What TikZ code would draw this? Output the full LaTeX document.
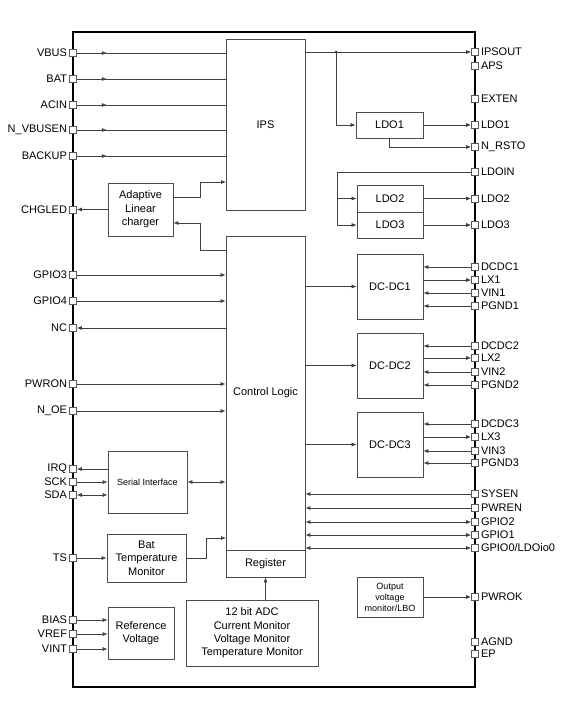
\documentclass[tikz,border=0pt]{standalone}
\usepackage{fontspec}
\setmainfont{Liberation Sans}
\usetikzlibrary{arrows.meta,decorations.markings}

\tikzset{
  wire/.style={draw=black!75, line width=0.7pt},
  arr/.style={wire, -{Latex[length=5pt,width=4pt]}},
  arrs/.style={wire, {Latex[length=5pt,width=4pt]}-{Latex[length=5pt,width=4pt]}},
  midarr/.style={wire, postaction={decorate},
    decoration={markings, mark=at position 30pt with {\arrow{Latex[length=5pt,width=4pt]}}}},
  blk/.style={draw=black!70, line width=0.8pt, inner sep=1pt, align=center,
    font=\fontsize{11}{13.4}\selectfont},
  small/.style={font=\fontsize{9}{11}\selectfont},
  pinbox/.style={draw=black!65, fill=white, line width=0.6pt, minimum size=7pt, inner sep=0pt},
  lbl/.style={font=\fontsize{11}{13}\selectfont, inner sep=2pt},
}

\begin{document}
\begin{tikzpicture}[x=1pt,y=-1pt]
\useasboundingbox (0,0) rectangle (564,711);

% chip outline
\node[draw, line width=1.5pt, minimum width=402pt, minimum height=655pt, inner sep=0pt] (chip) at (274,359.5) {};

% blocks
\node[blk, minimum width=79pt, minimum height=171pt] (ips) at (265.5,124.5) {IPS};
\node[blk, minimum width=79pt, minimum height=314pt] (ctrl) at (265.5,393) {Control Logic};
\node[blk, minimum width=79pt, minimum height=27pt] (reg) at (265.5,563.5) {Register};
\node[blk, minimum width=65pt, minimum height=53pt] (chg) at (140.5,209.5) {Adaptive\\Linear\\charger};
\node[blk, minimum width=67pt, minimum height=26pt] (ldo1) at (389.5,125) {LDO1};
\node[blk, minimum width=66pt, minimum height=27pt] (ldo2) at (390,198.5) {LDO2};
\node[blk, minimum width=66pt, minimum height=26pt] (ldo3) at (390,225) {LDO3};
\node[blk, minimum width=66pt, minimum height=65pt] (dc1) at (390,286.5) {DC-DC1};
\node[blk, minimum width=66pt, minimum height=65pt] (dc2) at (390,365.5) {DC-DC2};
\node[blk, minimum width=66pt, minimum height=65pt] (dc3) at (390,444.5) {DC-DC3};
\node[blk, small, minimum width=79pt, minimum height=62pt] (ser) at (147.5,482) {Serial Interface};
\node[blk, minimum width=79pt, minimum height=48pt] (bat) at (146.5,558) {Bat\\Temperature\\Monitor};
\node[blk, minimum width=66pt, minimum height=52pt] (ref) at (141,633) {Reference\\Voltage};
\node[blk, minimum width=132pt, minimum height=66pt] (adc) at (252,633) {12 bit ADC\\Current Monitor\\Voltage Monitor\\Temperature Monitor};
\node[blk, small, minimum width=66pt, minimum height=40pt] (ovm) at (390,597) {Output\\voltage\\monitor/LBO};

% left pins
\node[pinbox, label={[lbl]left:VBUS}] (pVBUS) at (73,53) {};
\node[pinbox, label={[lbl]left:BAT}] (pBAT) at (73,79) {};
\node[pinbox, label={[lbl]left:ACIN}] (pACIN) at (73,105) {};
\node[pinbox, label={[lbl]left:N\_VBUSEN}] (pNVBUSEN) at (73,130) {};
\node[pinbox, label={[lbl]left:BACKUP}] (pBACKUP) at (73,156) {};
\node[pinbox, label={[lbl]left:CHGLED}] (pCHGLED) at (73,209.5) {};
\node[pinbox, label={[lbl]left:GPIO3}] (pGPIO3) at (73,275) {};
\node[pinbox, label={[lbl]left:GPIO4}] (pGPIO4) at (73,301) {};
\node[pinbox, label={[lbl]left:NC}] (pNC) at (73,328) {};
\node[pinbox, label={[lbl]left:PWRON}] (pPWRON) at (73,384) {};
\node[pinbox, label={[lbl]left:N\_OE}] (pNOE) at (73,411) {};
\node[pinbox, label={[lbl]left:IRQ}] (pIRQ) at (73,469) {};
\node[pinbox, label={[lbl]left:SCK}] (pSCK) at (73,482) {};
\node[pinbox, label={[lbl]left:SDA}] (pSDA) at (73,495) {};
\node[pinbox, label={[lbl]left:TS}] (pTS) at (73,558) {};
\node[pinbox, label={[lbl]left:BIAS}] (pBIAS) at (73,620) {};
\node[pinbox, label={[lbl]left:VREF}] (pVREF) at (73,634) {};
\node[pinbox, label={[lbl]left:VINT}] (pVINT) at (73,649) {};

% right pins
\node[pinbox, label={[lbl]right:IPSOUT}] (pIPSOUT) at (475,52) {};
\node[pinbox, label={[lbl]right:APS}] (pAPS) at (475,66) {};
\node[pinbox, label={[lbl]right:EXTEN}] (pEXTEN) at (475,99) {};
\node[pinbox, label={[lbl]right:LDO1}] (pLDO1) at (475,125) {};
\node[pinbox, label={[lbl]right:N\_RSTO}] (pNRSTO) at (475,147) {};
\node[pinbox, label={[lbl]right:LDOIN}] (pLDOIN) at (475,172) {};
\node[pinbox, label={[lbl]right:LDO2}] (pLDO2) at (475,198.5) {};
\node[pinbox, label={[lbl]right:LDO3}] (pLDO3) at (475,225) {};
\node[pinbox, label={[lbl]right:DCDC1}] (pDCDC1) at (475,267) {};
\node[pinbox, label={[lbl]right:LX1}] (pLX1) at (475,280) {};
\node[pinbox, label={[lbl]right:VIN1}] (pVIN1) at (475,293) {};
\node[pinbox, label={[lbl]right:PGND1}] (pPGND1) at (475,306) {};
\node[pinbox, label={[lbl]right:DCDC2}] (pDCDC2) at (475,346) {};
\node[pinbox, label={[lbl]right:LX2}] (pLX2) at (475,358) {};
\node[pinbox, label={[lbl]right:VIN2}] (pVIN2) at (475,372) {};
\node[pinbox, label={[lbl]right:PGND2}] (pPGND2) at (475,385) {};
\node[pinbox, label={[lbl]right:DCDC3}] (pDCDC3) at (475,424) {};
\node[pinbox, label={[lbl]right:LX3}] (pLX3) at (475,437) {};
\node[pinbox, label={[lbl]right:VIN3}] (pVIN3) at (475,451) {};
\node[pinbox, label={[lbl]right:PGND3}] (pPGND3) at (475,463) {};
\node[pinbox, label={[lbl]right:SYSEN}] (pSYSEN) at (475,494) {};
\node[pinbox, label={[lbl]right:PWREN}] (pPWREN) at (475,508) {};
\node[pinbox, label={[lbl]right:GPIO2}] (pGPIO2) at (475,522) {};
\node[pinbox, label={[lbl]right:GPIO1}] (pGPIO1) at (475,535) {};
\node[pinbox, label={[lbl]right:GPIO0/LDOio0}] (pGPIO0) at (475,548) {};
\node[pinbox, label={[lbl]right:PWROK}] (pPWROK) at (475,597) {};
\node[pinbox, label={[lbl]right:AGND}] (pAGND) at (475,642) {};
\node[pinbox, label={[lbl]right:EP}] (pEP) at (475,654) {};

% power inputs to IPS
\draw[midarr] (pVBUS.east) -- (pVBUS -| ips.west);
\draw[midarr] (pBAT.east) -- (pBAT -| ips.west);
\draw[midarr] (pACIN.east) -- (pACIN -| ips.west);
\draw[midarr] (pNVBUSEN.east) -- (pNVBUSEN -| ips.west);
\draw[midarr] (pBACKUP.east) -- (pBACKUP -| ips.west);

% charger
\coordinate (ipsin) at (226,182);
\coordinate (chgout) at (226,250);
\draw[arr] ([yshift=12.5pt]chg.east) -- ++(27,0) |- (ipsin);
\draw[arr] (chgout) -- ++(-26,0) |- ([yshift=-13.5pt]chg.east);
\draw[arr] (chg.west) -- (pCHGLED.east);

% control logic inputs / outputs
\draw[arr] (pGPIO3.east) -- (pGPIO3 -| ctrl.west);
\draw[arr] (pGPIO4.east) -- (pGPIO4 -| ctrl.west);
\draw[arr] (pNC -| ctrl.west) -- (pNC.east);
\draw[arr] (pPWRON.east) -- (pPWRON -| ctrl.west);
\draw[arr] (pNOE.east) -- (pNOE -| ctrl.west);

% serial interface
\draw[arr] (pIRQ -| ser.west) -- (pIRQ.east);
\draw[arr] (pSCK.east) -- (pSCK -| ser.west);
\draw[arrs] (pSDA.east) -- (pSDA -| ser.west);
\draw[arrs] (ser.east) -- (ser.east -| ctrl.west);

% battery temperature
\coordinate (tin) at (226,538);
\draw[arr] (pTS.east) -- (bat.west);
\draw[arr] (bat.east) -- ++(20,0) |- (tin);

% reference
\draw[arr] (pBIAS.east) -- (pBIAS -| ref.west);
\draw[arr] (pVREF.east) -- (pVREF -| ref.west);
\draw[arr] (pVINT.east) -- (pVINT -| ref.west);

% adc
\draw[arr] (adc.north -| reg.south) -- (reg.south);

% IPSOUT and LDOs
\coordinate (jn) at (336,52);
\draw[arr] (pIPSOUT -| ips.east) -- (pIPSOUT.west);
\fill[black!80] (jn) circle (1.5pt);
\draw[arr] (jn) |- (ldo1.west);
\draw[arr] (ldo1.east) -- (pLDO1.west);
\draw[arr] (ldo1.south) |- (pNRSTO.west);
\coordinate (lin) at (337,172);
\draw[wire] (pLDOIN.west) -- (lin) -- (lin |- ldo3.west);
\draw[arr] (lin |- ldo2.west) -- (ldo2.west);
\draw[arr] (lin |- ldo3.west) -- (ldo3.west);
\draw[arr] (ldo2.east) -- (pLDO2.west);
\draw[arr] (ldo3.east) -- (pLDO3.west);

% DC-DC converters
\draw[arr] (dc1.west -| ctrl.east) -- (dc1.west);
\draw[arr] (dc2.west -| ctrl.east) -- (dc2.west);
\draw[arr] (dc3.west -| ctrl.east) -- (dc3.west);
\draw[arr] (pDCDC1.west) -- (pDCDC1 -| dc1.east);
\draw[arr] (pLX1 -| dc1.east) -- (pLX1.west);
\draw[arr] (pVIN1.west) -- (pVIN1 -| dc1.east);
\draw[arr] (pPGND1.west) -- (pPGND1 -| dc1.east);
\draw[arr] (pDCDC2.west) -- (pDCDC2 -| dc2.east);
\draw[arr] (pLX2 -| dc2.east) -- (pLX2.west);
\draw[arr] (pVIN2.west) -- (pVIN2 -| dc2.east);
\draw[arr] (pPGND2.west) -- (pPGND2 -| dc2.east);
\draw[arr] (pDCDC3.west) -- (pDCDC3 -| dc3.east);
\draw[arr] (pLX3 -| dc3.east) -- (pLX3.west);
\draw[arr] (pVIN3.west) -- (pVIN3 -| dc3.east);
\draw[arr] (pPGND3.west) -- (pPGND3 -| dc3.east);

% right side control pins
\draw[arr] (pSYSEN.west) -- (pSYSEN -| ctrl.east);
\draw[arr] (pPWREN.west) -- (pPWREN -| ctrl.east);
\draw[arrs] (pGPIO2.west) -- (pGPIO2 -| ctrl.east);
\draw[arrs] (pGPIO1.west) -- (pGPIO1 -| ctrl.east);
\draw[arrs] (pGPIO0.west) -- (pGPIO0 -| ctrl.east);
\draw[arr] (ovm.east) -- (pPWROK.west);
\end{tikzpicture}
\end{document}
